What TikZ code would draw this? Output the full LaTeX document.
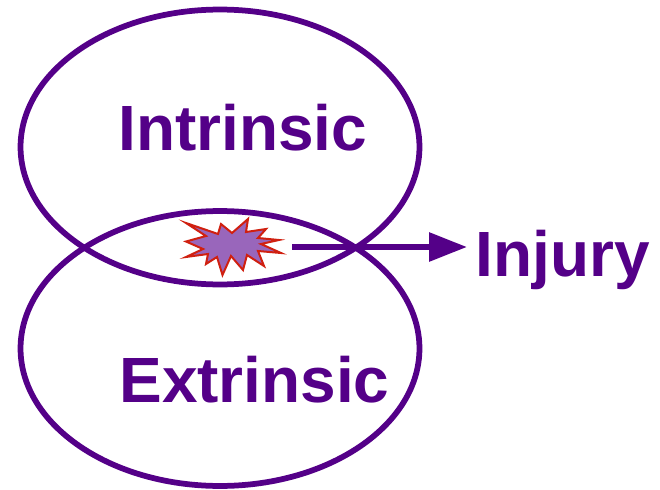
\documentclass[tikz,border=0pt]{standalone}
\usepackage{fontspec}
\setmainfont{Liberation Sans}
\usepackage{tikz}
\definecolor{RingPurple}{RGB}{84,0,136}
\definecolor{BurstFill}{RGB}{153,102,187}
\definecolor{BurstRed}{RGB}{208,32,16}
\usetikzlibrary{arrows.meta,positioning,shapes.geometric}
\tikzset{
  ring/.style={draw=RingPurple,line width=0.115cm,ellipse,inner sep=0pt,outer sep=0pt,minimum width=7.98cm,minimum height=5.5cm},
  ringlabel/.style={text=RingPurple,font=\fontsize{36.4}{40}\selectfont\bfseries,inner sep=0pt,anchor=base west}
}

\begin{document}
\begin{tikzpicture}[x=0.02cm,y=-0.02cm]
\useasboundingbox (0,0) rectangle (660,490);
\node[ring] (intrinsic) at (220,147) {};
\node[ring] (extrinsic) at (220,348.5) {};
\node[ringlabel] (intrinsiclabel) at (118,150) {Intrinsic};
\node[ringlabel] (extrinsiclabel) at (119,402) {Extrinsic};
\node[ringlabel] (injury) at (475.5,276) {Injury};
% burst
\draw[draw=BurstRed,fill=BurstFill,line width=0.04cm,line join=miter,miter limit=10]
  (186,223) -- (218,234) -- (221,224) -- (232,233) -- (248,219) -- (246,232) -- (266,229) -- (258,238)
  -- (279,240) -- (261,244) -- (281,253) -- (258,251) -- (264,266) -- (247,255) -- (243,270) -- (231,256)
  -- (222.5,275) -- (217,257) -- (206,264) -- (208,254) -- (186,257) -- (203,249) -- (186,241.5) -- (206,236) -- cycle;
\coordinate (burstedge) at (292,247);
\coordinate (arrowend) at (467,247);
\draw[-{Triangle[length=0.76cm,width=0.56cm]},RingPurple,line width=0.12cm] (burstedge) -- (arrowend);
\end{tikzpicture}
\end{document}
